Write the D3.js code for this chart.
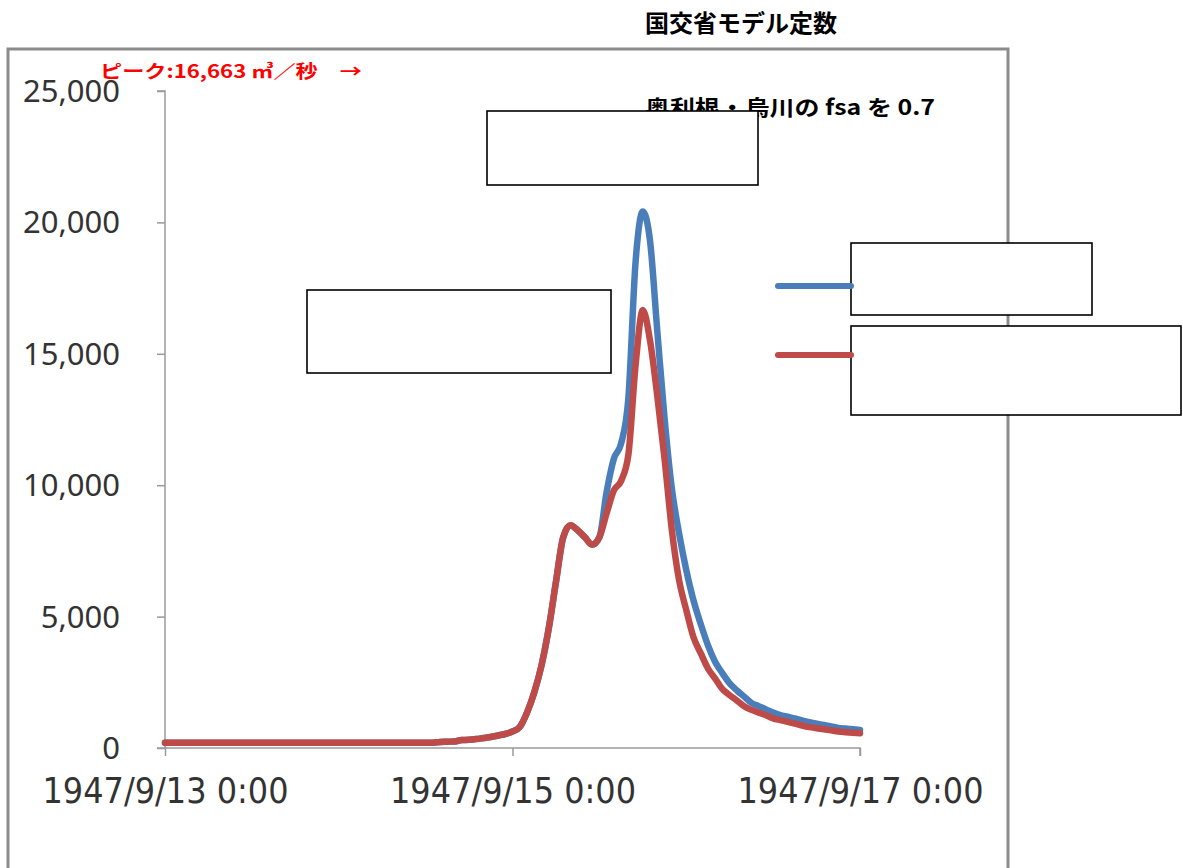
<!DOCTYPE html>
<html>
<head>
<meta charset="utf-8">
<script src="https://cdn.jsdelivr.net/npm/d3@7"></script>
<style>
  html, body { margin: 0; padding: 0; background: #fff; }
  svg { display: block; }
</style>
</head>
<body>
<svg id="chart" width="1183" height="868"></svg>
<script>
// ---- data (hourly, starting 1947/9/13 0:00) ----
const hours = d3.range(0, 97); // hour offsets 0..96
const blueSeries = [
  200,200,200,200,200,200,200,200,200,200,
  200,200,200,200,200,200,200,200,200,200,
  200,200,200,200,200,200,200,200,200,200,
  200,200,200,200,200,200,200,200,230,240,
  250,300,310,340,380,420,476,533,628,799,
  1343,2112,3135,4543,6316,8010,8474,8287,8017,7739,
  8020,9741,11008,11583,13291,18492,20414,19291,15867,12557,
  9893,8181,6773,5616,4718,3908,3276,2842,2458,2188,
  1956,1716,1594,1469,1351,1252,1191,1122,1050,982,
  928,875,822,765,738,712,685
];
const redSeries = [
  200,200,200,200,200,200,200,200,200,200,
  200,200,200,200,200,200,200,200,200,200,
  200,200,200,200,200,200,200,200,200,200,
  200,200,200,200,200,200,200,200,230,240,
  250,300,310,340,380,420,476,533,628,799,
  1343,2112,3135,4543,6316,8010,8474,8287,8017,7739,
  8017,8930,9802,10163,11149,14566,16663,15494,13394,11015,
  8322,6404,5251,4216,3607,3025,2637,2237,2009,1804,
  1587,1450,1347,1244,1130,1062,997,928,856,795,
  753,712,670,628,601,578,559
];
const xTickHours = [0, 48, 96];
const xTickLabels = ["1947/9/13 0:00", "1947/9/15 0:00", "1947/9/17 0:00"];
const yTicks = [0, 5000, 10000, 15000, 20000, 25000];
const titleText = "国交省モデル定数";
const noteText = "奥利根・烏川の fsa を 0.7";
const peakText = "ピーク:16,663 ㎥／秒　→";

// ---- drawing ----
const svg = d3.select("#chart");
const x = d3.scaleLinear().domain([0, 96]).range([165, 860]);
const y = d3.scaleLinear().domain([0, 25000]).range([748, 91]);
const blue = "#4a7ebb", red = "#be4b48";

// outer chart frame
svg.append("rect").attr("x", 8).attr("y", 49).attr("width", 1000).attr("height", 840)
  .attr("fill", "none").attr("stroke", "#8c8c8c").attr("stroke-width", 3);

// y axis
const yAxis = d3.axisLeft(y).tickValues(yTicks).tickFormat(d3.format(",")).tickSize(8).tickPadding(37);
const gy = svg.append("g").attr("transform", "translate(165,0)").call(yAxis);
gy.select(".domain").attr("stroke", "#9a9a9a").attr("stroke-width", 1.5).attr("d", `M-8,${y(25000)}H0V${y(0)}`);
gy.selectAll(".tick line").attr("stroke", "#9a9a9a").attr("stroke-width", 1.5);
gy.selectAll(".tick text").attr("font-family", "'Noto Sans', sans-serif").attr("font-size", 31)
  .attr("fill", "#333").attr("dy", "0.34em");

// x axis
const xAxis = d3.axisBottom(x).tickValues(xTickHours).tickFormat((d, i) => xTickLabels[i]).tickSize(8).tickPadding(22);
const gx = svg.append("g").attr("transform", `translate(0,${y(0)})`).call(xAxis);
gx.select(".domain").attr("stroke", "#9a9a9a").attr("stroke-width", 1.5).attr("d", `M157,0H860V8`);
gx.selectAll(".tick line").attr("stroke", "#9a9a9a").attr("stroke-width", 1.5);
gx.selectAll(".tick text").attr("font-family", "'Liberation Sans Narrow', 'DejaVu Sans Condensed', sans-serif")
  .attr("font-size", 35).attr("fill", "#333").attr("dy", "0.71em")
  .attr("textLength", 246).attr("lengthAdjust", "spacingAndGlyphs");

// lines
const line = d3.line().x((d, i) => x(hours[i])).y(d => y(d)).curve(d3.curveMonotoneX);
svg.append("path").datum(blueSeries).attr("d", line).attr("fill", "none")
  .attr("stroke", blue).attr("stroke-width", 6.5).attr("stroke-linejoin", "round").attr("stroke-linecap", "round");
svg.append("path").datum(redSeries).attr("d", line).attr("fill", "none")
  .attr("stroke", red).attr("stroke-width", 6.5).attr("stroke-linejoin", "round").attr("stroke-linecap", "round");

// texts
svg.append("text").attr("x", 645).attr("y", 32).text(titleText)
  .attr("font-family", "'Noto Sans CJK JP', sans-serif").attr("font-weight", "bold").attr("font-size", 24).attr("fill", "#000");
svg.append("text").attr("x", 645).attr("y", 115).text(noteText)
  .attr("font-family", "'Noto Sans CJK JP', sans-serif").attr("font-weight", "bold").attr("font-size", 21)
  .attr("fill", "#000").attr("textLength", 290).attr("lengthAdjust", "spacingAndGlyphs");
svg.append("text").attr("x", 100).attr("y", 78).text(peakText)
  .attr("font-family", "'Noto Sans CJK JP', sans-serif").attr("font-weight", "bold").attr("font-size", 18)
  .attr("fill", "#ff0000").attr("textLength", 262).attr("lengthAdjust", "spacingAndGlyphs");

// blank boxes
const boxes = [
  [487, 111, 271, 74],
  [307, 290, 304, 83],
  [851, 243, 241, 72],
  [851, 326, 330, 89]
];
boxes.forEach(b => svg.append("rect").attr("x", b[0]).attr("y", b[1]).attr("width", b[2]).attr("height", b[3])
  .attr("fill", "#fff").attr("stroke", "#000").attr("stroke-width", 1.6));

// legend lines
[[blue, 286], [red, 355]].forEach(([c, yy]) => svg.append("line")
  .attr("x1", 778).attr("x2", 851).attr("y1", yy).attr("y2", yy)
  .attr("stroke", c).attr("stroke-width", 6).attr("stroke-linecap", "round"));
</script>
</body>
</html>
